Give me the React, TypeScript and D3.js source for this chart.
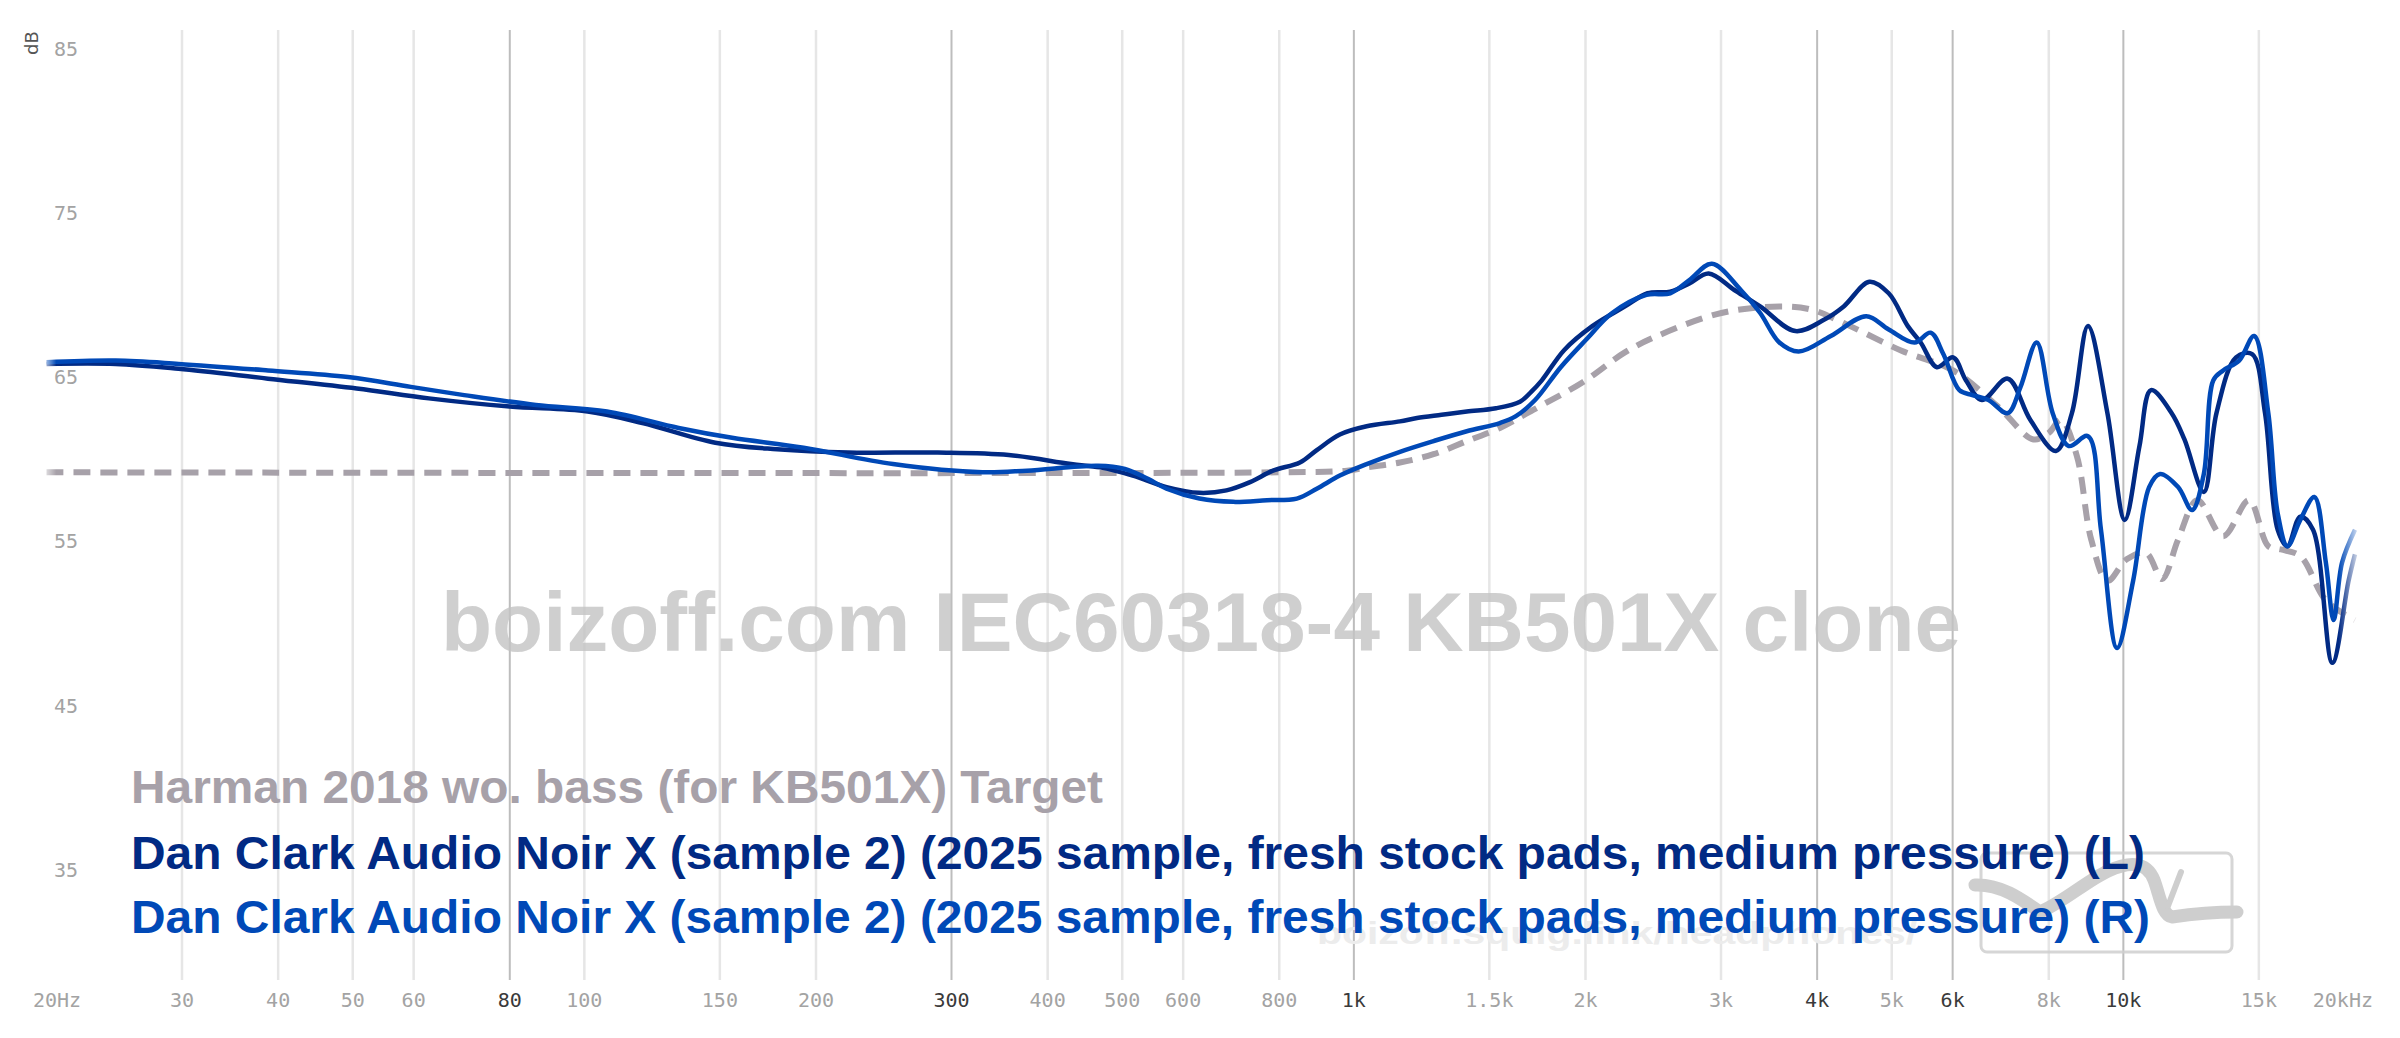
import React from "react";
import * as d3 from "d3";

const W = 2400;
const H = 1038;

// ---- data ----
const TARGET_F = [20, 800, 980, 1039, 1148, 1269, 1402, 1548, 1710, 1986, 2250, 2479, 3004, 3573, 3934, 4415, 5150, 6008, 6871, 7642, 8000, 8300, 8700, 9084, 9534, 10099, 10700, 11230, 11780, 12480, 13480, 14560, 15430, 16030, 16980, 18330, 20000];
const TARGET_V = [60, 60, 60.1, 60.3, 60.6, 61.1, 61.9, 62.7, 63.8, 65.5, 67.3, 68.3, 69.7, 70.1, 69.9, 68.9, 67.4, 66.2, 64.0, 62.0, 62.4, 63.2, 61.0, 55.9, 53.4, 54.7, 55.1, 53.5, 55.9, 58.3, 56.1, 58.3, 55.5, 55.3, 54.9, 52.2, 51.0];

const LEFT_F = [20, 24.6, 29.7, 38.8, 50.6, 62.8, 80, 101, 119, 148, 178, 220, 288, 356, 429, 468, 516, 571, 630, 683, 733, 785, 851, 895, 959, 1039, 1148, 1208, 1300, 1402, 1530, 1644, 1700, 1755, 1877, 2041, 2251, 2408, 2577, 2729, 2891, 3122, 3373, 3748, 4088, 4331, 4677, 4955, 5247, 5453, 5724, 6008, 6243, 6549, 7075, 7568, 8172, 8573, 8996, 9534, 10042, 10494, 10863, 11556, 12006, 12722, 13213, 14009, 14700, 15280, 15870, 16340, 16980, 17640, 18690, 19620, 20000];
const LEFT_V = [66.6, 66.6, 66.3, 65.7, 65.1, 64.5, 64.0, 63.7, 63.0, 61.8, 61.4, 61.2, 61.2, 61.05, 60.5, 60.3, 59.8, 59.1, 58.75, 58.9, 59.4, 60.1, 60.6, 61.35, 62.3, 62.8, 63.1, 63.3, 63.5, 63.7, 63.9, 64.3, 64.9, 65.6, 67.45, 68.9, 70.1, 70.9, 71.0, 71.5, 72.1, 71.1, 70.1, 68.6, 69.3, 70.1, 71.6, 70.9, 68.9, 67.9, 66.4, 67.0, 65.6, 64.4, 65.7, 63.2, 61.3, 63.6, 68.9, 63.6, 57.1, 61.6, 65.0, 63.6, 62.0, 58.8, 63.6, 67.0, 67.2, 63.6, 56.5, 55.5, 57.3, 56.5, 48.4, 53.4, 55.0];

const RIGHT_F = [20, 24.6, 29.7, 38.8, 49.3, 59.5, 69.8, 86.5, 107, 132.6, 155.6, 192.7, 251.8, 329, 376, 465, 504, 540, 571, 630, 697, 771, 843, 895, 959, 1039, 1148, 1269, 1402, 1548, 1622, 1720, 1857, 2006, 2166, 2400, 2577, 2729, 2919, 3183, 3373, 3573, 3785, 4167, 4633, 4955, 5354, 5617, 5835, 6122, 6365, 6678, 7075, 7352, 7716, 8094, 8494, 8996, 9352, 9813, 10297, 10802, 11160, 11780, 12285, 12722, 13090, 13480, 14140, 14790, 15430, 15870, 16340, 16980, 17710, 18330, 18760, 19240, 20000];
const RIGHT_V = [66.7, 66.8, 66.6, 66.2, 65.8, 65.2, 64.7, 64.1, 63.7, 62.7, 62.1, 61.5, 60.5, 60.0, 60.1, 60.4, 60.2, 59.6, 59.0, 58.4, 58.2, 58.3, 58.4, 59.0, 59.8, 60.5, 61.25, 61.9, 62.5, 63.0, 63.4, 64.4, 66.4, 68.1, 69.7, 70.8, 70.9, 71.7, 72.7, 71.1, 69.7, 67.9, 67.35, 68.3, 69.5, 68.7, 67.9, 68.5, 67.2, 65.0, 64.7, 64.4, 63.6, 65.2, 67.9, 63.6, 61.6, 62.2, 56.5, 49.3, 53.4, 59.1, 59.9, 59.1, 57.7, 59.9, 65.6, 66.2, 66.8, 68.3, 63.6, 57.5, 55.5, 57.1, 58.5, 54.5, 51.0, 54.5, 56.5];

const X_TICKS = [20, 30, 40, 50, 60, 80, 100, 150, 200, 300, 400, 500, 600, 800, 1000, 1500, 2000, 3000, 4000, 5000, 6000, 8000, 10000, 15000, 20000];
const X_LABELS = ["20Hz", "30", "40", "50", "60", "80", "100", "150", "200", "300", "400", "500", "600", "800", "1k", "1.5k", "2k", "3k", "4k", "5k", "6k", "8k", "10k", "15k", "20kHz"];
const X_MAJOR = [80, 300, 1000, 4000, 6000, 10000];
const Y_GRID = [85, 80, 75, 70, 65, 60, 55, 50, 45, 40, 35, 30];
const Y_LABELS = [85, 75, 65, 55, 45, 35];

const LEGEND_NAMES = [
  "Harman 2018 wo. bass (for KB501X) Target",
  "Dan Clark Audio Noir X (sample 2) (2025 sample, fresh stock pads, medium pressure) (L)",
  "Dan Clark Audio Noir X (sample 2) (2025 sample, fresh stock pads, medium pressure) (R)",
];
const WATERMARK = "boizoff.com IEC60318-4 KB501X clone";
const URL_MARK = "boizoff.squig.link/headphones/";

const C_TARGET = "#a7a1a9";
const C_L = "#012a84";
const C_R = "#0049b7";

export default function App() {
  const x = d3.scaleLog().domain([20, 20000]).range([46.5, 2355]);
  const y = d3.scaleLinear().domain([30, 85]).range([965, 61.7]);
  const line = d3
    .line<[number, number]>()
    .x((d) => x(d[0]))
    .y((d) => y(d[1]))
    .curve(d3.curveCatmullRom.alpha(0.5));
  const zip = (f: number[], v: number[]) => f.map((ff, i) => [ff, v[i]] as [number, number]);

  const sans = "'Liberation Sans', Arial, sans-serif";
  const mono = "'DejaVu Sans Mono', monospace";

  return (
    <svg width={W} height={H} style={{ position: "absolute", left: 0, top: 0, background: "#fff" }}>
      <defs>
        <linearGradient id="fade" gradientUnits="userSpaceOnUse" x1={40} x2={2362} y1={0} y2={0}>
          <stop offset="0" stopColor="#fff" stopOpacity={0} />
          <stop offset="0.007" stopColor="#fff" stopOpacity={1} />
          <stop offset="0.99" stopColor="#fff" stopOpacity={1} />
          <stop offset="1" stopColor="#fff" stopOpacity={0} />
        </linearGradient>
        <mask id="edgeMask" maskUnits="userSpaceOnUse" x={0} y={0} width={W} height={H}>
          <rect x={0} y={0} width={W} height={H} fill="url(#fade)" />
        </mask>
        <filter id="soft" x="-5%" y="-50%" width="110%" height="200%">
          <feGaussianBlur stdDeviation="1.2" />
        </filter>
      </defs>

      {/* horizontal grid */}
      <g>
        {Y_GRID.map((v) => (
          <line key={v} x1={43} x2={2357} y1={y(v)} y2={y(v)} stroke="#ededed" strokeWidth={5} filter="url(#soft)" />
        ))}
      </g>

      {/* vertical grid */}
      <g>
        {X_TICKS.filter((f) => f !== 20 && f !== 20000).map((f) => (
          <line
            key={f}
            x1={x(f)}
            x2={x(f)}
            y1={30}
            y2={980}
            stroke={X_MAJOR.includes(f) ? "#bdbdbd" : "#e6e6e6"}
            strokeWidth={X_MAJOR.includes(f) ? 2 : 2.5}
          />
        ))}
      </g>

      {/* watermark */}
      <text
        x={441}
        y={651}
        fontFamily={sans}
        fontWeight="bold"
        fontSize={83}
        textLength={1520}
        lengthAdjust="spacingAndGlyphs"
        fill="#c4c4c4"
        opacity={0.8}
      >
        {WATERMARK}
      </text>

      {/* logo */}
      <g opacity={0.85}>
        <rect x={1981} y={853} width={251} height={99} rx={6} fill="none" stroke="#cfcfcf" strokeWidth={3} />
        <path
          d="M1975,885 C2000,884 2020,898 2040,912 C2062,903 2088,880 2108,871 C2128,862 2146,860 2154,880 C2160,896 2162,915 2172,917 C2192,914 2215,912 2237,912"
          fill="none"
          stroke="#c6c6c6"
          strokeWidth={13}
          strokeLinecap="round"
        />
        <path d="M2181,872 L2168,906" fill="none" stroke="#c6c6c6" strokeWidth={6} strokeLinecap="round" />
      </g>
      <text
        x={1917}
        y={944}
        textAnchor="end"
        fontFamily={sans}
        fontWeight="bold"
        fontSize={32}
        textLength={600}
        lengthAdjust="spacingAndGlyphs"
        fill="#ececec"
      >
        {URL_MARK}
      </text>

      {/* curves */}
      <g mask="url(#edgeMask)">
        <path
          d={line(zip(TARGET_F, TARGET_V)) || ""}
          fill="none"
          stroke={C_TARGET}
          strokeWidth={6}
          strokeDasharray="17 10"
        />
        <path d={line(zip(LEFT_F, LEFT_V)) || ""} fill="none" stroke={C_L} strokeWidth={4.5} strokeLinejoin="round" />
        <path d={line(zip(RIGHT_F, RIGHT_V)) || ""} fill="none" stroke={C_R} strokeWidth={4.5} strokeLinejoin="round" />
      </g>

      {/* y labels */}
      {Y_LABELS.map((v) => (
        <text key={v} x={54} y={y(v) - 6} fontFamily={mono} fontSize={20} fill="#a3a3a3">
          {v}
        </text>
      ))}
      <text
        transform="translate(38,43) rotate(-90)"
        textAnchor="middle"
        fontFamily="'DejaVu Sans', sans-serif"
        fontSize={18}
        fill="#555"
      >
        dB
      </text>

      {/* x labels */}
      {X_TICKS.map((f, i) => {
        const first = i === 0;
        const last = i === X_TICKS.length - 1;
        return (
          <text
            key={f}
            x={first ? 33 : last ? 2373 : x(f)}
            y={1007}
            textAnchor={first ? "start" : last ? "end" : "middle"}
            fontFamily={mono}
            fontSize={20}
            fill={X_MAJOR.includes(f) ? "#3a3a3a" : "#a3a3a3"}
          >
            {X_LABELS[i]}
          </text>
        );
      })}

      {/* legend */}
      {LEGEND_NAMES.map((name, i) => (
        <text
          key={name}
          x={131}
          y={[803, 869, 933][i]}
          fontFamily={sans}
          fontWeight="bold"
          fontSize={46}
          textLength={[972, 2014, 2019][i]}
          lengthAdjust="spacingAndGlyphs"
          fill={[C_TARGET, C_L, C_R][i]}
        >
          {name}
        </text>
      ))}
    </svg>
  );
}
